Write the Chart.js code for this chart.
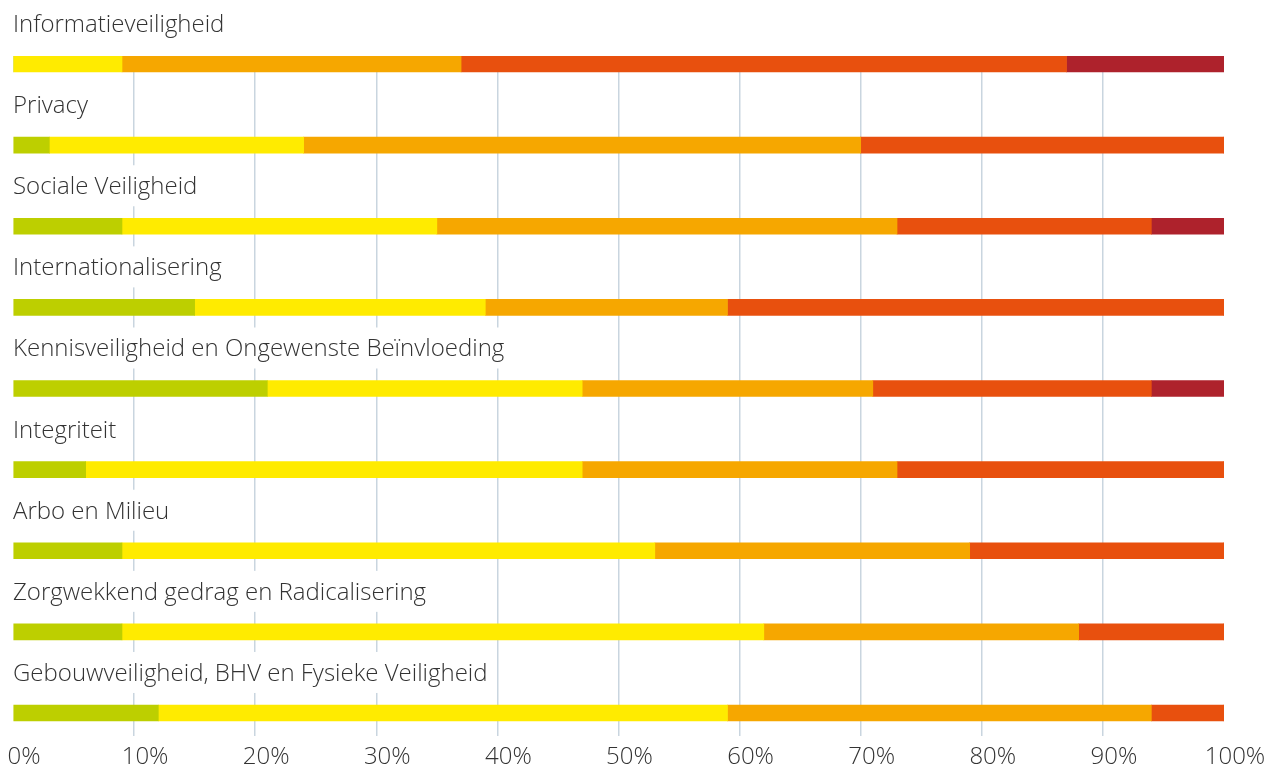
<!DOCTYPE html>
<html>
<head>
<meta charset="utf-8">
<script src="https://cdn.jsdelivr.net/npm/chart.js@4.4.1/dist/chart.umd.min.js"></script>
<style>
  html, body { margin: 0; padding: 0; background: #fff; }
  #wrap { width: 1268px; height: 768px; }
</style>
</head>
<body>
<div id="wrap"><canvas id="chart"></canvas></div>
<script>
const categories = [
  "Informatieveiligheid",
  "Privacy",
  "Sociale Veiligheid",
  "Internationalisering",
  "Kennisveiligheid en Ongewenste Beïnvloeding",
  "Integriteit",
  "Arbo en Milieu",
  "Zorgwekkend gedrag en Radicalisering",
  "Gebouwveiligheid, BHV en Fysieke Veiligheid"
];

// percentages per level
const level1 = [0, 3, 9, 15, 21, 6, 9, 9, 12];
const level2 = [9, 21, 26, 24, 26, 41, 44, 53, 47];
const level3 = [28, 46, 38, 20, 24, 26, 26, 26, 35];
const level4 = [50, 30, 21, 41, 23, 27, 21, 12, 6];
const level5 = [13, 0, 6, 0, 6, 0, 0, 0, 0];

const colors = ["#bdcf00", "#ffeb00", "#f6a700", "#e8500e", "#ae222c"];
const FONT = "'Open Sans', sans-serif";

const series = [level1, level2, level3, level4, level5];
const datasets = series.map((vals, k) => ({
  data: vals.map((v, i) => ({ x: v, y: i })),
  backgroundColor: colors[k],
  borderWidth: 0,
  barThickness: 16
}));

const rowLabels = {
  id: "rowLabels",
  beforeDatasetsDraw(chart) {
    const ctx = chart.ctx;
    const y = chart.scales.y;
    ctx.save();
    ctx.font = "300 24px " + FONT;
    ctx.textBaseline = "alphabetic";
    ctx.textAlign = "left";
    categories.forEach((name, i) => {
      const base = y.getPixelForValue(i) - 32;
      const w = ctx.measureText(name).width;
      ctx.fillStyle = "#fff";
      ctx.fillRect(8, base - 29, w + 12, 41);
      ctx.fillStyle = "#333";
      ctx.fillText(name, 13, base);
    });
    ctx.restore();
  }
};

new Chart(document.getElementById("chart"), {
  type: "bar",
  data: { datasets },
  options: {
    indexAxis: "y",
    responsive: true,
    maintainAspectRatio: false,
    animation: false,
    layout: { padding: { top: 56, left: 13, right: 44, bottom: -10 } },
    plugins: { legend: { display: false }, tooltip: { enabled: false } },
    scales: {
      x: {
        stacked: true,
        min: 0,
        max: 100,
        border: { display: false },
        grid: {
          drawTicks: false,
          lineWidth: 1.5,
          color: c => (c.tick && (c.tick.value === 0 || c.tick.value === 100)) ? "rgba(0,0,0,0)" : "#c9d5df"
        },
        ticks: {
          stepSize: 10,
          padding: 9,
          labelOffset: 11,
          color: "#333",
          font: { family: FONT, size: 24, weight: 300, lineHeight: 1 },
          callback: v => v + "%"
        },
        afterFit(scale) { scale.paddingLeft = 0; scale.paddingRight = 0; }
      },
      y: {
        type: "linear",
        stacked: true,
        reverse: true,
        offset: false,
        grid: { offset: false },
        min: -0.099,
        max: 8.284,
        display: false
      }
    }
  },
  plugins: [rowLabels]
});
</script>
</body>
</html>
